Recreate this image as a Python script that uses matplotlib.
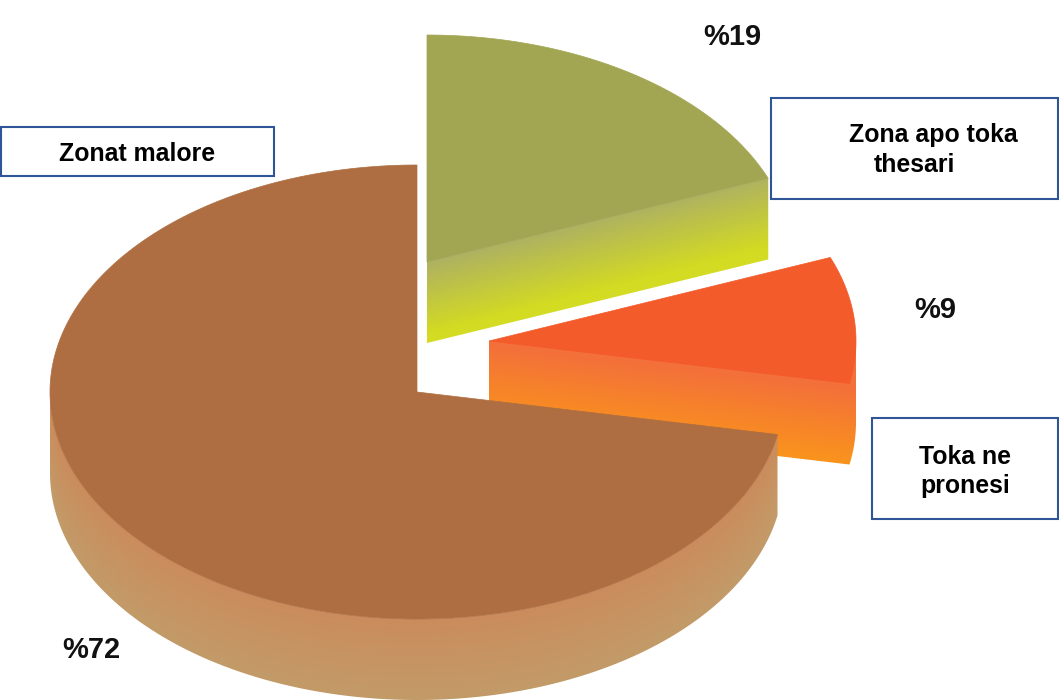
import numpy as np
import matplotlib
matplotlib.use("Agg")
import matplotlib.pyplot as plt
from matplotlib.patches import Polygon, Rectangle
from matplotlib.colors import to_rgb

# Data
categories = ["Zonat malore", "Zona apo toka\nthesari", "Toka ne\npronesi"]
values = [72, 19, 9]
pct_labels = ["%72", "%19", "%9"]

W, H = 1059, 700
RX, RY, DEPTH = 367, 227, 81
fig = plt.figure(figsize=(W / 100, H / 100), dpi=100)
ax = fig.add_axes([0, 0, 1, 1])
ax.axis("off")

yy, xx = np.mgrid[0:H, 0:W] + 0.5


def pt(c, t):
    t = np.radians(t)
    return np.column_stack([c[0] + RX * np.sin(t), c[1] - RY * np.cos(t)])


def arc(c, a, b, n=200):
    return pt(c, np.linspace(a, b, n))


def shade(poly, frac, c0, c1, z):
    c0, c1 = np.array(to_rgb(c0)), np.array(to_rgb(c1))
    f = np.clip(frac, 0, 1)[..., None]
    im = ax.imshow(c0 * (1 - f) + c1 * f, extent=(0, W, H, 0), origin="upper",
                   interpolation="bilinear", zorder=z, aspect="auto")
    patch = Polygon(poly, closed=True, transform=ax.transData, fc="none", ec="none")
    ax.add_patch(patch)
    im.set_clip_path(patch)


# Angles measured clockwise from 12 o'clock, taken from the values
sweep = [v / sum(values) * 360 for v in values]
a_green = sweep[1]
a_orange = a_green + sweep[2]

# Green slice
c = np.array([427.0, 262.0])
p = pt(c, a_green)[0]
slope = (p[1] - c[1]) / (p[0] - c[0])
side = np.array([c, p, p + [0, DEPTH], c + [0, DEPTH]])
shade(side, (yy - (c[1] + slope * (xx - c[0]))) / DEPTH * 1.12 + (xx - c[0]) / 340 * 0.05,
      "#aeb162", "#d3db22", 1)
ax.add_patch(Polygon(np.vstack([[c], arc(c, 0, a_green)]), fc="#a2a552", ec="#a2a552", lw=0.5, zorder=2))

# Orange slice
c = np.array([489.0, 341.0])
p = pt(c, a_orange)[0]
slope = (p[1] - c[1]) / (p[0] - c[0])
rim = arc(c, 90, a_orange, 60)
side = np.vstack([[c], rim[:1], rim + [0, DEPTH], [c + [0, DEPTH]]])
shade(side, (yy - (c[1] + slope * (xx - c[0]))) / DEPTH * 1.05 - 0.05,
      "#f3703a", "#fa941c", 3)
ax.add_patch(Polygon(np.vstack([[c], arc(c, a_green, a_orange)]), fc="#f35b2a", ec="#f35b2a", lw=0.5, zorder=4))

# Brown slice
c = np.array([417.0, 392.0])
rim = arc(c, a_orange, 270, 300)
side = np.vstack([rim, rim[::-1] + [0, DEPTH]])
u = np.clip((xx - c[0]) / RX, -1, 1)
edge = c[1] + RY * np.sqrt(1 - u ** 2)
edge = np.where(xx < c[0] - RX, c[1], edge)
shade(side, (yy - edge) / DEPTH, "#cb8c5c", "#c29b69", 5)
ax.add_patch(Polygon(np.vstack([[c], arc(c, a_orange, 360, 500)]), fc="#ae6e41", ec="#ae6e41", lw=0.5, zorder=6))

# Label boxes
for x0, y0, x1, y1 in [(1, 127, 274, 176), (771, 98, 1058, 199), (872, 418, 1058, 519)]:
    ax.add_patch(Rectangle((x0, y0), x1 - x0, y1 - y0, fc="white", ec="#2f5597", lw=1.5, zorder=8))

bold = dict(family=["Liberation Sans", "DejaVu Sans"], fontweight="bold", fontsize=17.9,
            color="black", zorder=9, va="center")
first, second = categories[1].split("\n"), categories[2].split("\n")
ax.text(137, 154, categories[0], ha="center", **bold)
ax.text(849, 135, first[0], ha="left", **bold)
ax.text(874, 165, first[1], ha="left", **bold)
ax.text(965, 457, second[0], ha="center", **bold)
ax.text(965, 486, second[1], ha="center", **bold)

pct = dict(family=["Liberation Sans", "DejaVu Sans"], fontweight="bold",
           fontsize=21, color="#111111", zorder=9, va="center", ha="center")
ax.text(91, 650, pct_labels[0], **pct)
ax.text(732, 37, pct_labels[1], **pct)
ax.text(935, 310, pct_labels[2], **pct)

ax.set_xlim(0, W)
ax.set_ylim(H, 0)
fig.savefig("out.png", dpi=100, facecolor="white")
